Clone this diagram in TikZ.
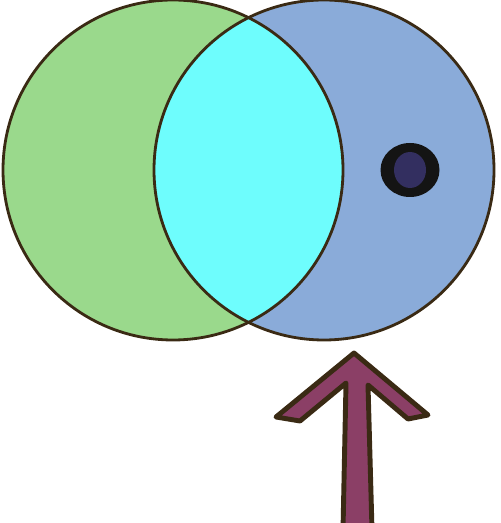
\documentclass[tikz,border=0pt]{standalone}
\usepackage{xcolor}
\usetikzlibrary{positioning}

\definecolor{setgreen}{HTML}{9AD98C}
\definecolor{setblue}{HTML}{8AABD9}
\definecolor{setcyan}{HTML}{6EFDFD}
\definecolor{inkbrown}{HTML}{3A2A14}
\definecolor{arrowpurple}{HTML}{8B3F66}
\definecolor{dotblue}{HTML}{332F60}

\begin{document}
\begin{tikzpicture}[
        x=0.02cm, y=-0.02cm,
        outline/.style={draw=inkbrown, line width=1.6pt},
        arrowshape/.style={fill=arrowpurple, draw=inkbrown, line width=2.8pt, line join=round}
    ]
    \useasboundingbox (0,0) rectangle (500,523);
    \clip (0,0) rectangle (500,523);

    \coordinate (LeftC) at (173,170);
    \coordinate (RightC) at (324,170);

    % Left and right sets
    \fill[setgreen] (LeftC) circle (170);
    \fill[setblue] (RightC) circle (170);

    % Intersection
    \begin{scope}
        \clip (LeftC) circle (170);
        \fill[setcyan] (RightC) circle (170);
    \end{scope}

    \draw[outline] (LeftC) circle (170);
    \draw[outline] (RightC) circle (170);

    % Point in the right set
    \fill[black!92] (410,170) ellipse (29.5 and 27);
    \fill[dotblue] (410,170) ellipse (16 and 18);

    % Arrow
    \draw[arrowshape] (354,353) -- (428,415) -- (408,419) -- (368,385)
        -- (372,530) -- (343,530) -- (346,383) -- (300,421) -- (276,417) -- cycle;

\end{tikzpicture}
\end{document}
